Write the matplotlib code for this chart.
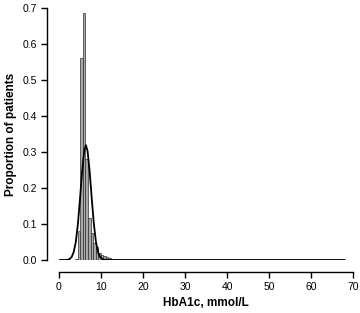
import matplotlib
matplotlib.use("Agg")
import matplotlib.pyplot as plt
import numpy as np

plt.rcParams['font.family'] = ['Liberation Sans', 'DejaVu Sans']

# Histogram bins (left edges) and heights
bin_left = [3.9, 4.5, 5.1, 5.7, 6.3, 6.9, 7.5, 8.1, 8.7, 9.3, 9.9, 10.5, 11.1, 11.7, 12.3, 12.9]
bin_height = [0.004, 0.08, 0.56, 0.685, 0.28, 0.117, 0.075, 0.048, 0.037, 0.02, 0.014, 0.01, 0.008, 0.005, 0.003, 0.002]
bin_width = 0.6

# Fitted curve points
curve_x = [0.0, 1.5, 2.0, 2.5, 3.0, 3.5, 4.0, 4.5, 5.0, 5.5, 6.0, 6.4, 6.8, 7.3, 7.8, 8.3, 8.8, 9.3, 9.8, 10.3, 10.8, 12.0, 68.0]
curve_y = [0.0, 0.0, 0.0006, 0.0025, 0.008, 0.022, 0.05, 0.10, 0.17, 0.246, 0.303, 0.319, 0.303, 0.246, 0.17, 0.10, 0.05, 0.022, 0.008, 0.0025, 0.0006, 0.0, 0.0]

x_ticks = [0, 10, 20, 30, 40, 50, 60, 70]
y_ticks = [0.0, 0.1, 0.2, 0.3, 0.4, 0.5, 0.6, 0.7]

fig = plt.figure(figsize=(3.6, 3.13), dpi=100)
ax = fig.add_axes([59/360, (313-260)/313, 294/360, 252/313])

ax.bar(bin_left, bin_height, width=bin_width, align='edge',
       color='#a8a8a8', edgecolor='#303030', linewidth=0.5)
ax.plot(curve_x, curve_y, color='black', lw=1.3)

ax.set_xlim(0, 70)
ax.set_ylim(0, 0.7)
ax.set_xticks(x_ticks)
ax.set_yticks(y_ticks)
ax.set_yticklabels([f"{v:.1f}" for v in y_ticks])
for s in ['top', 'right']:
    ax.spines[s].set_visible(False)
ax.spines['left'].set_position(('outward', 8.6))
ax.spines['bottom'].set_position(('outward', 8.6))
ax.spines['left'].set_linewidth(1.0)
ax.spines['bottom'].set_linewidth(1.0)
ax.tick_params(axis='both', labelsize=7.5, length=4, width=1.0, pad=3)
ax.set_xlabel("HbA1c, mmol/L", fontsize=8.5, fontweight='bold', labelpad=4)
ax.set_ylabel("Proportion of patients", fontsize=8.5, fontweight='bold', labelpad=4)

fig.savefig("out.png", dpi=100)
